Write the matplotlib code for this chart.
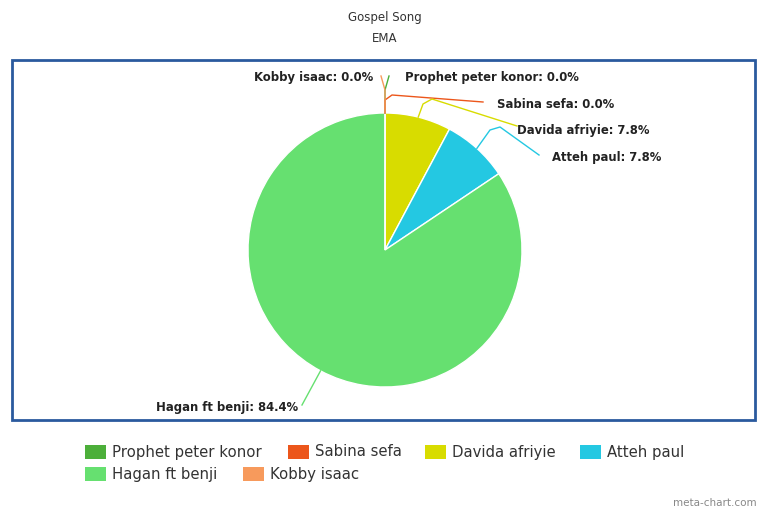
import numpy as np
import matplotlib.pyplot as plt
from matplotlib.patches import Rectangle
from matplotlib.lines import Line2D

# slices in drawing order (clockwise from 12 o'clock)
names = ["Prophet peter konor", "Sabina sefa", "Davida afriyie", "Atteh paul", "Hagan ft benji", "Kobby isaac"]
values = [0.0, 0.0, 7.8, 7.8, 84.4, 0.0]
colors = ["#4caf3a", "#ec561b", "#d8dc00", "#24c8e2", "#66e070", "#f79a5c"]

W, H = 770, 513

# label text positions in pixels (x, y from top), alignment, and leader elbow points
label_pos = {
    "Prophet peter konor": (405, 77, "left", [(385, 90), (389, 76)]),
    "Sabina sefa": (497, 104, "left", [(385, 100), (392, 95), (483, 102)]),
    "Davida afriyie": (517, 131, "left", [(423, 104), (432, 99), (517, 126)]),
    "Atteh paul": (552, 158, "left", [(490, 130), (500, 127), (539, 155)]),
    "Hagan ft benji": (298, 408, "right", [(302, 405)]),
    "Kobby isaac": (373, 77, "right", [(385, 90), (381, 76)]),
}

fig = plt.figure(figsize=(W / 100, H / 100), dpi=100)

cx, cy, r = 385, 250, 137
ax = fig.add_axes([(cx - r) / W, 1 - (cy + r) / H, 2 * r / W, 2 * r / H])
wedges, _ = ax.pie(values, colors=colors, startangle=90, counterclock=False,
                   radius=1, wedgeprops=dict(edgecolor="white", linewidth=1))
ax.set_xlim(-1, 1)
ax.set_ylim(-1, 1)
ax.set_aspect("equal")
ax.axis("off")

fig.canvas.draw()
for w, name, val, col in zip(wedges, names, values, colors):
    mid = np.deg2rad((w.theta1 + w.theta2) / 2)
    if val == 0:
        mid = np.pi / 2
    px, py = ax.transData.transform((np.cos(mid), np.sin(mid)))
    tx, ty, ha, elbows = label_pos[name]
    xs = [px] + [e[0] for e in elbows]
    ys = [py] + [H - e[1] for e in elbows]
    fig.add_artist(Line2D(xs, ys, transform=None, color=col, lw=1))
    fig.text(tx / W, 1 - ty / H, f"{name}: {val:.1f}%", ha=ha, va="center",
             fontsize=8.4, fontweight="bold", color="#222222")

# frame around plot area
fig.patches.append(Rectangle((12 / W, 1 - 420 / H), 743 / W, 360 / H, transform=fig.transFigure,
                             fill=False, edgecolor="#2a5a9e", linewidth=2))

fig.text(385 / W, 1 - 17 / H, "Gospel Song", ha="center", va="center", fontsize=8.5, color="#333333")
fig.text(385 / W, 1 - 38 / H, "EMA", ha="center", va="center", fontsize=8.5, color="#333333")

# legend drawn by hand to match the reference spacing
legend_slots = {
    "Prophet peter konor": (85, 452), "Sabina sefa": (288, 452),
    "Davida afriyie": (425, 452), "Atteh paul": (580, 452),
    "Hagan ft benji": (85, 474), "Kobby isaac": (243, 474),
}
for name, col in zip(names, colors):
    lx, ly = legend_slots[name]
    fig.patches.append(Rectangle((lx / W, 1 - (ly + 7) / H), 21 / W, 14 / H,
                                 transform=fig.transFigure, facecolor=col, edgecolor="none"))
    fig.text((lx + 27) / W, 1 - ly / H, name, ha="left", va="center", fontsize=10.7, color="#333333")

fig.text(757 / W, 1 - 503 / H, "meta-chart.com", ha="right", va="center", fontsize=7.5, color="#888888")

fig.savefig("out.png", dpi=100)
